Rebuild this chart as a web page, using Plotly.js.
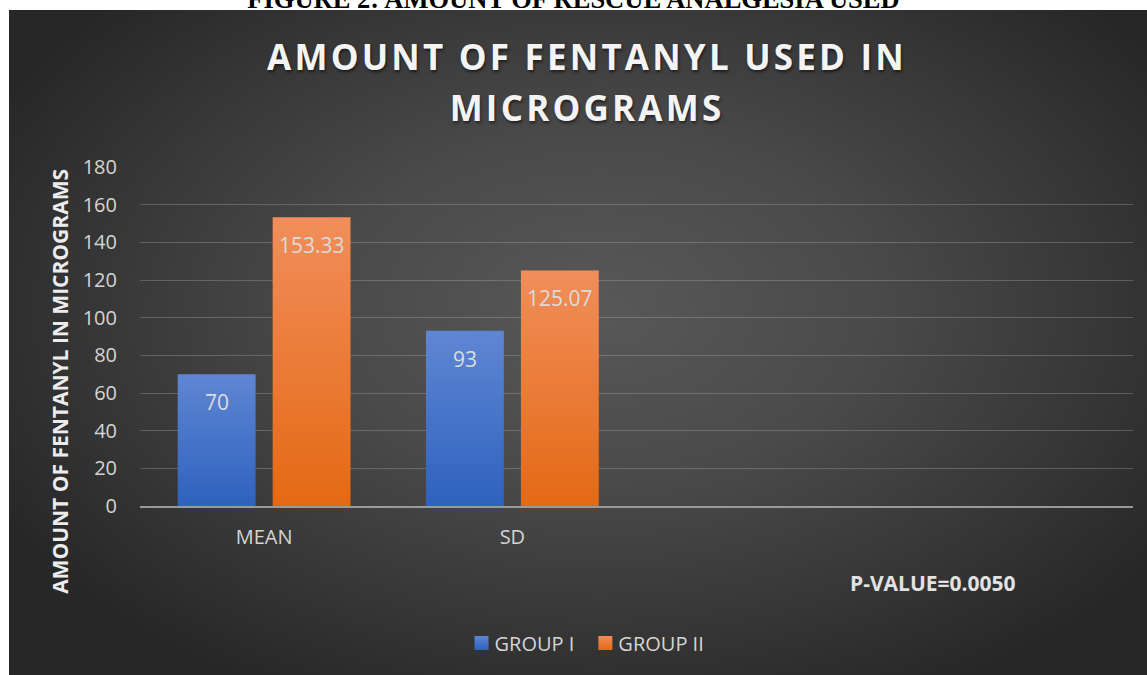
<!DOCTYPE html>
<html>
<head>
<meta charset="utf-8">
<script src="https://cdn.plot.ly/plotly-3.0.1.min.js"></script>
<style>
  html, body { margin:0; padding:0; background:#ffffff; width:1147px; height:675px; overflow:hidden; }
  #fig { position:absolute; left:0; top:0; width:1147px; height:10px; overflow:hidden; }
  #figtxt { position:absolute; left:0; width:1147px; top:-14.5px; text-align:center;
            font-family:"Liberation Serif","Times New Roman",serif; font-weight:bold; font-size:26.5px; line-height:26.5px; color:#000; white-space:nowrap; }
  #bg { position:absolute; left:9px; top:10px; width:1138px; height:665px;
        background: radial-gradient(ellipse 60% 65% at 52% 45%, #585858 0%, #4a4a4a 40%, #363636 75%, #272727 100%); }
  #chart { position:absolute; left:0; top:0; width:1147px; height:675px; }
  .gtitle { letter-spacing: 3.2px; }
</style>
</head>
<body>
<div id="fig"><div id="figtxt">FIGURE 2: AMOUNT OF RESCUE ANALGESIA USED</div></div>
<div id="bg"></div>
<div id="chart"></div>
<script>
// ---- data ----
const categories = ["MEAN", "SD"];
const seriesNames = ["GROUP I", "GROUP II"];
const groupI = [70, 93];
const groupII = [153.33, 125.07];
const yTicks = [0, 20, 40, 60, 80, 100, 120, 140, 160, 180];
const titleText = "AMOUNT OF FENTANYL USED IN<br>MICROGRAMS";
const yTitleText = "AMOUNT OF FENTANYL IN MICROGRAMS";
const pValueText = "P-VALUE=0.0050";

const blue = "#4a78cc", orange = "#f07e2e";
const labelColor = "#d4d4d4";
const BARGAP = 0.235, BARGROUPGAP = 0.18;

const traces = [
  { type:"bar", name:seriesNames[0], x:categories, y:groupI, marker:{color:blue}, hoverinfo:"none" },
  { type:"bar", name:seriesNames[1], x:categories, y:groupII, marker:{color:orange}, hoverinfo:"none" }
];

// data labels near top inside bars
const slot = (1 - BARGAP) / 2;
const anns = [];
[groupI, groupII].forEach((vals, s) => {
  vals.forEach((v, i) => {
    anns.push({ xref:"x", yref:"y", x: i + (s === 0 ? -slot/2 : slot/2), y: v, yshift:-28,
      text: String(v), showarrow:false, font:{family:"Open Sans", size:21, color:"#dcdcdc"} });
  });
});
anns.push({ xref:"paper", yref:"paper", x:-0.0806, y:0.369, xanchor:"center", yanchor:"middle", textangle:-90, showarrow:false,
  text:yTitleText, font:{family:"Open Sans", size:21, color:"#ececec", weight:700} });
anns.push({ xref:"paper", yref:"paper", x:0.799, y:-0.227, xanchor:"center", yanchor:"middle", showarrow:false,
  text:pValueText, font:{family:"Open Sans", size:21, color:"#e2e2e2", weight:700} });

const layout = {
  width:1147, height:675,
  paper_bgcolor:"rgba(0,0,0,0)", plot_bgcolor:"rgba(0,0,0,0)",
  margin:{l:140, r:14, t:167, b:169},
  barmode:"group", bargap:BARGAP, bargroupgap:BARGROUPGAP,
  title:{ text:titleText, x:0.5118, xref:"container", xanchor:"center", yref:"container", y:0.8964, yanchor:"middle",
    font:{family:"Open Sans", size:35, color:"#f4f4f4", weight:700, shadow:"1px 2px 3px rgba(0,0,0,0.55)"} },
  xaxis:{ type:"category", range:[-0.5, 3.5], showgrid:false, zeroline:false,
    showline:true, linecolor:"#9a9a9a", linewidth:2, ticks:"", ticklabelstandoff:12,
    tickfont:{family:"Open Sans", size:20, color:labelColor}, fixedrange:true },
  yaxis:{ range:[0,180], tickvals:yTicks, showgrid:true, gridcolor:"rgba(200,200,200,0.28)", gridwidth:1,
    zeroline:false, showline:false, ticks:"", ticklabelstandoff:22,
    tickfont:{family:"Open Sans", size:20, color:labelColor}, fixedrange:true },
  legend:{ orientation:"h", x:0.4527, xanchor:"center", y:-0.404, yanchor:"middle",
    font:{family:"Open Sans", size:20, color:labelColor}, bgcolor:"rgba(0,0,0,0)" },
  annotations:anns,
  showlegend:true
};

Plotly.newPlot("chart", traces, layout, {displayModeBar:false, staticPlot:true}).then(gd => {
  const svg = gd.querySelector("svg.main-svg");
  const ns = "http://www.w3.org/2000/svg";
  let defs = svg.querySelector("defs");
  if (!defs) { defs = document.createElementNS(ns, "defs"); svg.insertBefore(defs, svg.firstChild); }
  function grad(id, top, bot) {
    const g = document.createElementNS(ns, "linearGradient");
    g.setAttribute("id", id); g.setAttribute("x1","0"); g.setAttribute("y1","0"); g.setAttribute("x2","0"); g.setAttribute("y2","1");
    [[0, top],[1, bot]].forEach(([o,c]) => { const st = document.createElementNS(ns,"stop"); st.setAttribute("offset", o); st.setAttribute("stop-color", c); g.appendChild(st); });
    defs.appendChild(g);
  }
  grad("gBlue", "#5f86d3", "#2e62be");
  grad("gOrange", "#f18e5b", "#e46914");
  const ids = ["gBlue", "gOrange"];
  gd.querySelectorAll(".barlayer .trace.bars").forEach((tr, k) => {
    tr.querySelectorAll("path").forEach(p => { p.style.fill = "url(#" + ids[k] + ")"; });
  });
  // legend: larger swatches, tighter text
  gd.querySelectorAll(".legend .traces").forEach((t, k) => {
    const txt = t.querySelector("text.legendtext");
    if (txt) txt.setAttribute("x", 33);
    t.querySelectorAll(".legendpoints path").forEach(p => {
      p.setAttribute("d", "M7,7H-7V-7H7Z"); p.style.fill = "url(#" + ids[k] + ")"; p.style.strokeWidth = "0";
    });
    if (k > 0) {
      const tf = t.getAttribute("transform") || "";
      const m = tf.match(/translate\(\s*([-\d.]+)[ ,]+([-\d.]+)\s*\)/);
      if (m) t.setAttribute("transform", "translate(" + (parseFloat(m[1]) - 1*k) + "," + m[2] + ")");
    }
  });
  // wider title line spacing
  const lines = gd.querySelectorAll(".gtitle tspan.line");
  if (lines.length > 1) { lines[1].setAttribute("dy", "1.46em"); }
});
</script>
</body>
</html>
